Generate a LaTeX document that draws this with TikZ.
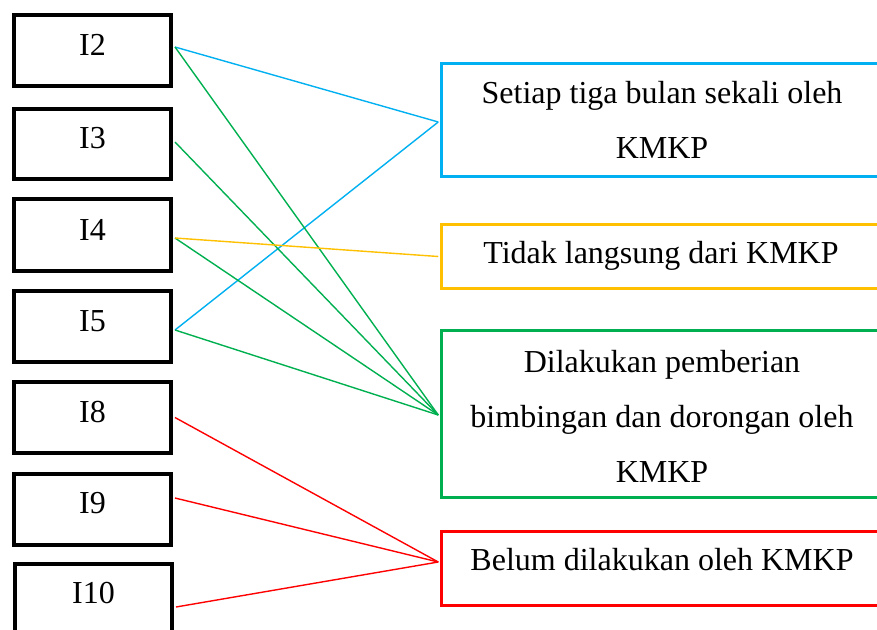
\documentclass[tikz,border=0pt]{standalone}
\usepackage{fontspec}
\setmainfont{Liberation Serif}
\definecolor{cblue}{HTML}{00B0F0}
\definecolor{cyellow}{HTML}{FFC000}
\definecolor{cgreen}{HTML}{00B050}
\definecolor{cred}{HTML}{FF0000}
\begin{document}
\begin{tikzpicture}[x=1pt,y=-1pt,
  lbox/.style={draw=black,line width=4pt,minimum width=157pt,inner sep=0pt,fill=white},
  rbox/.style={line width=3pt,minimum width=443.5pt,inner sep=0pt,fill=white},
  txt/.style={font=\fontsize{32}{55}\selectfont,align=center,inner sep=0pt},
  conn/.style={line width=1.4pt}]
\useasboundingbox (0,0) rectangle (877,629);
% left boxes
\node[lbox,minimum height=71pt] (i2) at (92.5,50.5) {};
\node[lbox,minimum height=70pt] (i3) at (92.5,144) {};
\node[lbox,minimum height=72pt] (i4) at (92.5,235) {};
\node[lbox,minimum height=71pt] (i5) at (92.5,326.5) {};
\node[lbox,minimum height=71pt] (i8) at (92.5,417.5) {};
\node[lbox,minimum height=71pt] (i9) at (92.5,509.5) {};
\node[lbox,minimum height=71pt] (i10) at (93.5,599.5) {};
\node[txt] (t2) at (92.5,44.7) {I2};
\node[txt] (t3) at (92.5,137.7) {I3};
\node[txt] (t4) at (92.5,229.7) {I4};
\node[txt] (t5) at (92.5,320.7) {I5};
\node[txt] (t8) at (92.5,411.7) {I8};
\node[txt] (t9) at (92.5,502.7) {I9};
\node[txt] (t10) at (93.5,592.7) {I10};
% right boxes
\node[rbox,draw=cblue,minimum height=113pt] (rb) at (663,120) {};
\node[rbox,draw=cyellow,minimum height=64pt] (ry) at (663,256.5) {};
\node[rbox,draw=cgreen,minimum height=167pt] (rg) at (663,414) {};
\node[rbox,draw=cred,minimum height=74pt] (rr) at (663,568.5) {};
\node[txt] (tb) at (662,120) {Setiap tiga bulan sekali oleh\\KMKP};
\node[txt] (ty) at (661,256) {Tidak langsung dari KMKP};
\node[txt] (tg) at (662,416) {Dilakukan pemberian\\bimbingan dan dorongan oleh\\KMKP};
\node[txt] (tr) at (662,560) {Belum dilakukan oleh KMKP};
% anchor points
\coordinate (p2) at ([xshift=2pt,yshift=3.5pt]i2.east);
\coordinate (p3) at ([xshift=2pt,yshift=2pt]i3.east);
\coordinate (p4) at ([xshift=2pt,yshift=-3pt]i4.east);
\coordinate (p5) at ([xshift=2pt,yshift=-3.5pt]i5.east);
\coordinate (p8) at ([xshift=2pt]i8.east);
\coordinate (p9) at ([xshift=2pt,yshift=11.5pt]i9.east);
\coordinate (p10) at ([xshift=2pt,yshift=-7.5pt]i10.east);
\coordinate (qb) at ([xshift=-1.5pt,yshift=-2pt]rb.west);
\coordinate (qy) at ([xshift=-1.5pt]ry.west);
\coordinate (qg) at ([xshift=-1.5pt,yshift=-1pt]rg.west);
\coordinate (qr) at ([xshift=-1.5pt,yshift=6.5pt]rr.west);
% connectors
\draw[conn,cblue] (p2) -- (qb);
\draw[conn,cblue] (p5) -- (qb);
\draw[conn,cgreen] (p2) -- (qg);
\draw[conn,cgreen] (p3) -- (qg);
\draw[conn,cgreen] (p4) -- (qg);
\draw[conn,cgreen] (p5) -- (qg);
\draw[conn,cyellow] (p4) -- (qy);
\draw[conn,cred] (p8) -- (qr);
\draw[conn,cred] (p9) -- (qr);
\draw[conn,cred] (p10) -- (qr);
\end{tikzpicture}
\end{document}
